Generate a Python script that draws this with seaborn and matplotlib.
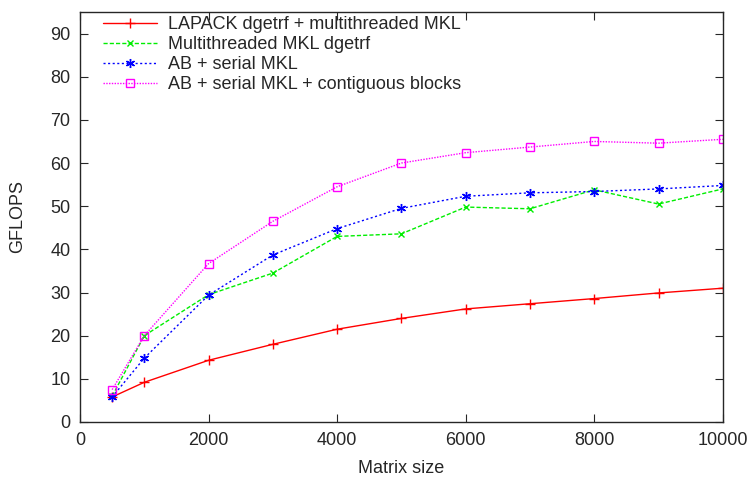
import matplotlib
matplotlib.use("Agg")
import matplotlib.pyplot as plt
import seaborn as sns
import pandas as pd

# Matrix sizes on the x axis
sizes = [500, 1000, 2000, 3000, 4000, 5000, 6000, 7000, 8000, 9000, 10000]

# GFLOPS per series
lapack_mt = [5.8, 9.2, 14.3, 18.0, 21.5, 24.0, 26.2, 27.4, 28.6, 29.9, 31.0]
mkl_mt = [6.0, 20.0, 29.5, 34.5, 43.0, 43.6, 49.8, 49.4, 53.8, 50.5, 54.0]
ab_serial = [5.8, 14.8, 29.4, 38.7, 44.8, 49.5, 52.3, 53.1, 53.4, 54.0, 54.8]
ab_contig = [7.5, 20.0, 36.7, 46.5, 54.5, 60.0, 62.4, 63.7, 65.0, 64.6, 65.5]

labels = ["LAPACK dgetrf + multithreaded MKL",
          "Multithreaded MKL dgetrf",
          "AB + serial MKL",
          "AB + serial MKL + contiguous blocks"]

sns.set_style("ticks")
plt.rcParams['font.family'] = ['Liberation Sans', 'DejaVu Sans']

df = pd.DataFrame({"size": sizes * 4,
                   "gflops": lapack_mt + mkl_mt + ab_serial + ab_contig,
                   "series": sum([[l] * len(sizes) for l in labels], [])})

# gnuplot-like styles
styles = {
    labels[0]: dict(color="#ff0000", ls="-", marker="+", ms=6.5),
    labels[1]: dict(color="#00ee00", ls=(0, (3, 1.5)), marker="x", ms=5),
    labels[2]: dict(color="#0000ff", ls=(0, (1.5, 1.8)), marker=(6, 2, 0), ms=6.5),
    labels[3]: dict(color="#ff00ff", ls=(0, (1, 1)), marker="s", ms=6),
}

fs = 13
fig = plt.figure(figsize=(7.5, 4.79), dpi=100)
ax = fig.add_axes([0.1067, 0.119, 0.857, 0.856])

for lab in labels:
    st = styles[lab]
    sns.lineplot(data=df[df["series"] == lab], x="size", y="gflops", ax=ax,
                 color=st["color"], linestyle=st["ls"], marker=st["marker"],
                 markersize=st["ms"], markerfacecolor="none",
                 markeredgecolor=st["color"], markeredgewidth=1.0,
                 linewidth=1.0, label=lab, errorbar=None)

ax.set_xlim(0, 10000)
ax.set_ylim(0, 95)
ax.set_xticks(range(0, 10001, 2000))
ax.set_yticks(range(0, 91, 10))
ax.tick_params(direction="in", top=True, right=True, length=6, labelsize=fs, width=0.8)
ax.tick_params(axis="y", pad=7)
ax.tick_params(axis="x", pad=7)
for sp in ax.spines.values():
    sp.set_linewidth(1.0)
ax.set_xlabel("Matrix size", fontsize=fs, labelpad=8)
ax.set_ylabel("GFLOPS", fontsize=fs, labelpad=17)

leg = ax.legend(loc="upper left", bbox_to_anchor=(0.036, 0.99), frameon=False,
                fontsize=fs, handlelength=3.0, labelspacing=0.165,
                borderaxespad=0, borderpad=0, handletextpad=0.6)

fig.savefig("out.png", dpi=100)
